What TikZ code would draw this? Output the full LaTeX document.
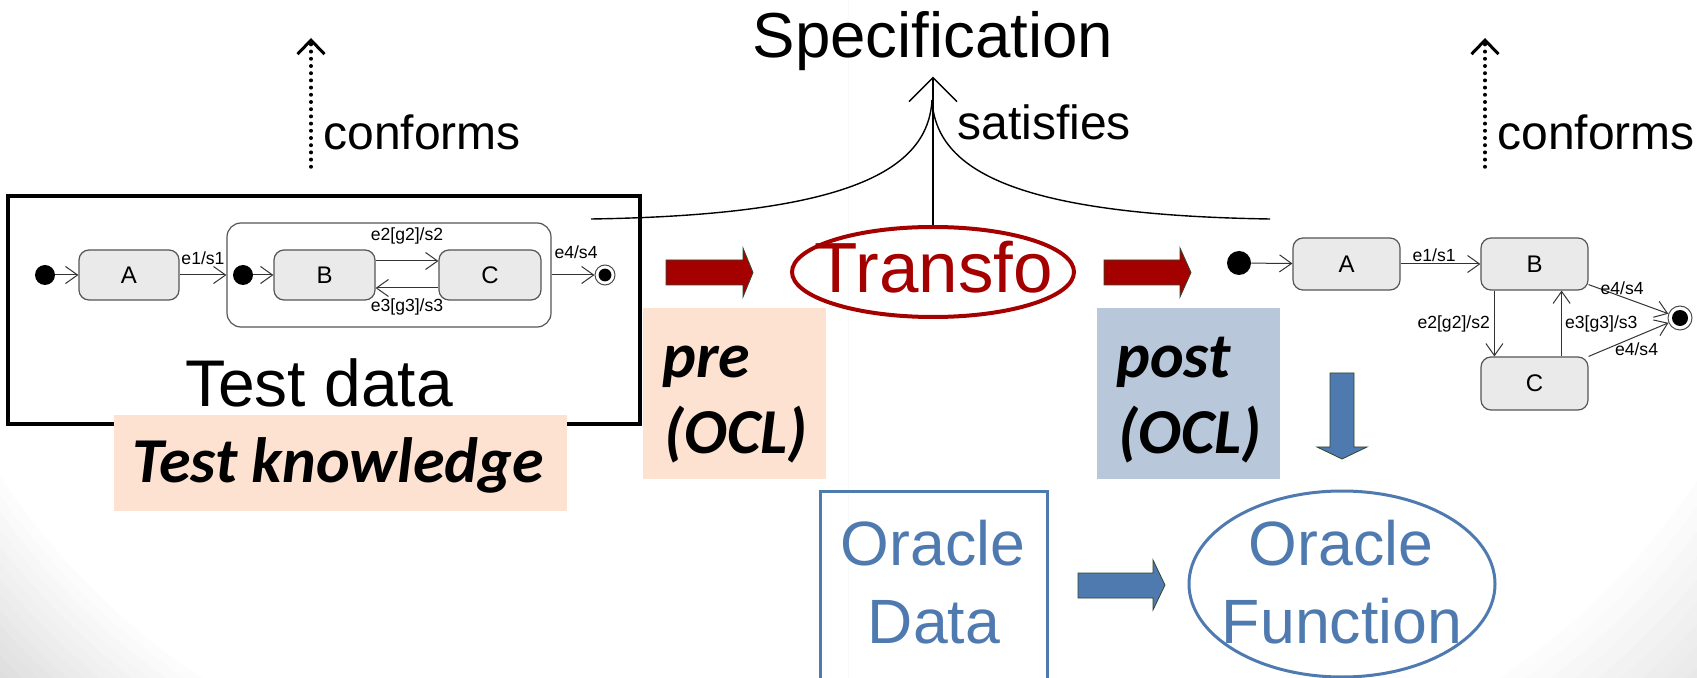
\documentclass[tikz,border=0pt]{standalone}
\usepackage{fontspec}
\setmainfont{Liberation Sans}
\newfontfamily\calfont{Carlito}
\usetikzlibrary{arrows.meta,shapes.geometric,calc}
\definecolor{peach}{RGB}{253,225,209}
\definecolor{postblue}{RGB}{184,199,218}
\definecolor{tred}{RGB}{165,0,0}
\definecolor{oblue}{RGB}{79,122,176}
\definecolor{stfill}{RGB}{234,234,234}
\definecolor{stdraw}{RGB}{85,85,85}
\definecolor{arrline}{RGB}{50,70,45}
\begin{document}
\begin{tikzpicture}[x=0.5pt,y=-0.5pt,
  txt/.style={font=\fontsize{#1}{#1}\selectfont, inner sep=0pt},
  ktxt/.style={font=\calfont\bfseries\itshape\fontsize{32}{32}\selectfont, inner sep=0pt},
  stbox/.style={rectangle, rounded corners=5pt, draw=stdraw, fill=stfill, line width=0.6pt, inner sep=0pt, font=\fontsize{12}{14}\selectfont},
  initst/.style={circle, fill=black, inner sep=0pt, minimum size=10pt},
  finst/.style 2 args={circle, draw=black!70, fill=white, line width=0.5pt, inner sep=0pt, minimum size=#1, path picture={\fill[black] (path picture bounding box.center) circle[radius=#2];}},
  trans/.style={draw=black!80, line width=0.5pt, -{Straight Barb[length=6pt,width=8.5pt]}},
  tlab/.style={font=\fontsize{8.8}{10}\selectfont, inner sep=1pt},
  confarrow/.style={line width=1.75pt, line cap=round, dash pattern=on 0.2pt off 3.4pt, -{Straight Barb[length=7pt,width=13.5pt,line width=1.5pt]}},
  fanline/.style={line width=0.7pt},
  blockred/.style={fill=tred, draw=arrline, line width=0.4pt},
  blockblue/.style={fill=oblue, draw=arrline, line width=0.4pt}]
\useasboundingbox (0,0) rectangle (1697,678);
% background: soft grey in the two lower corners
\begin{scope}
\clip (0,0) rectangle (848.5,678);
\fill[black!13] (0,0) rectangle (848.5,678);
\foreach \g in {12,11,...,0} {
  \pgfmathsetmacro\rr{715+(\g+0.5)*10.2}
  \fill[black!\g] (600,78) circle[radius=\rr];
}
\end{scope}
\begin{scope}
\clip (848.5,0) rectangle (1697,678);
\fill[black!9] (848.5,0) rectangle (1697,678);
\foreach \g in {8,7,...,0} {
  \pgfmathsetmacro\rr{715+(\g+0.5)*14.8}
  \fill[black!\g] (1097,78) circle[radius=\rr];
}
\end{scope}

% Specification and satisfies
\node[txt=31.8, anchor=base, inner sep=2.5pt] (spec) at (933,58) {Specification};
\node[txt=24, anchor=base west] (sat) at (957,140) {satisfies};

% conforms arrows
\coordinate (cfLb) at (311,167); \coordinate (cfLt) at (311,38);
\draw[confarrow] (cfLb) -- (cfLt);
\node[txt=24, anchor=base west] (cfLtxt) at (323,150) {conforms};
\coordinate (cfRb) at (1485,167); \coordinate (cfRt) at (1485,38);
\draw[confarrow] (cfRb) -- (cfRt);
\node[txt=24, anchor=base west] (cfRtxt) at (1497,150) {conforms};

% Test data box
\node[draw, line width=2pt, fill=white, minimum width=316pt, minimum height=114pt, inner sep=0pt] (tdbox) at (324,310) {};
\node[txt=33, anchor=base] (tdtxt) at (319,407) {Test data};

% left state machine
\node[initst] (iL1) at (45,275) {};
\node[stbox, minimum width=50pt, minimum height=25pt] (AL) at (129,275) {A};
\node[draw=stdraw, fill=white, rounded corners=7pt, line width=0.6pt, minimum width=162pt, minimum height=52pt, inner sep=0pt] (comp) at (389,275) {};
\node[initst] (iL2) at (243,275) {};
\node[stbox, minimum width=50.5pt, minimum height=25pt] (BL) at (324.5,275) {B};
\node[stbox, minimum width=51pt, minimum height=25pt] (CL) at (490,275) {C};
\node[finst={10pt}{3.2pt}] (fL) at (605,275) {};
\coordinate (bcU1) at (375,261); \coordinate (bcU2) at (439,261);
\coordinate (bcD1) at (439,288); \coordinate (bcD2) at (375,288);
\draw[trans] (iL1) -- (AL);
\draw[trans] (AL) -- (comp) node[tlab, midway, above=4pt] {e1/s1};
\draw[trans] (iL2) -- (BL);
\draw[trans] (BL.east |- bcU1) -- (CL.west |- bcU2) node[tlab, midway, above=7pt] {e2[g2]/s2};
\draw[trans] (CL.west |- bcD1) -- (BL.east |- bcD2) node[tlab, midway, below=4pt] {e3[g3]/s3};
\draw[trans] (comp) -- (fL) node[tlab, midway, above=7pt, xshift=1.5pt] {e4/s4};

% Test knowledge
\node[fill=peach, minimum width=226.5pt, minimum height=48pt, inner sep=0pt] (tkbox) at (340.5,463) {};
\node[ktxt, anchor=base] (tktxt) at (338,482) {Test knowledge};

% pre / post boxes
\node[fill=peach, minimum width=91.5pt, minimum height=85.5pt, inner sep=0pt] (prebox) at (734.5,393.5) {};
\node[ktxt, anchor=base west] (pre1) at (662,378) {pre};
\node[ktxt, anchor=base west] (pre2) at (664,453) {(OCL)};
\node[fill=postblue, minimum width=91.5pt, minimum height=85.5pt, inner sep=0pt] (postbox) at (1188.5,393.5) {};
\node[ktxt, anchor=base west] (post1) at (1116,378) {post};
\node[ktxt, anchor=base west] (post2) at (1118,453) {(OCL)};

% Transfo
\node[ellipse, draw=tred, line width=2pt, minimum width=141pt, minimum height=45pt, inner sep=0pt] (transfo) at (933,272) {};
\node[txt=35.5, text=tred, anchor=base] (transfotxt) at (934,293) {Transfo};
\draw[fanline, -{Straight Barb[length=12pt,width=24pt]}] (transfo.north) -- (spec.south);
\coordinate (fanL) at (591,219); \coordinate (fanR) at (1270,219); \coordinate (fanTop) at (932,100);
\draw[fanline] (fanL) .. controls (850,215) and (928,170) .. (fanTop);
\draw[fanline] (fanR) .. controls (1014,215) and (936,170) .. (fanTop);

% red block arrows
\filldraw[blockred] (666,260) -- (743,260) -- (743,248) -- (753,272.5) -- (743,297) -- (743,285) -- (666,285) -- cycle;
\filldraw[blockred] (1104,260) -- (1180,260) -- (1180,248) -- (1191,272.5) -- (1180,297) -- (1180,285) -- (1104,285) -- cycle;

% right state machine
\node[initst, minimum size=12pt] (iR) at (1239,263) {};
\node[stbox, minimum width=53.5pt, minimum height=26pt] (AR) at (1346.5,264) {A};
\node[stbox, minimum width=53.5pt, minimum height=26pt] (BR) at (1534.5,264) {B};
\node[stbox, minimum width=53.5pt, minimum height=26.5pt] (CR) at (1534.5,383.5) {C};
\node[finst={12pt}{4pt}] (fR) at (1680,318) {};
\draw[trans] (iR) -- (AR);
\draw[trans] (AR) -- (BR) node[tlab, pos=0.42, above=0pt] {e1/s1};
\draw[trans] ([xshift=7pt]BR.south west) -- ([xshift=7pt]CR.north west) node[tlab, midway, left=1pt] {e2[g2]/s2};
\draw[trans] ([xshift=-13.5pt]CR.north east) -- ([xshift=-13.5pt]BR.south east) node[tlab, midway, right=0.5pt] {e3[g3]/s3};
\draw[trans] ([yshift=3pt]BR.south east) -- (fR) node[tlab, pos=0.42, above=0pt] {e4/s4};
\draw[trans] (CR.north east) -- (fR) node[tlab, pos=0.6, below=2pt] {e4/s4};

% blue arrows
\filldraw[blockblue] (1330,373) -- (1354,373) -- (1354,447) -- (1367,447) -- (1342,459) -- (1317,447) -- (1330,447) -- cycle;
\filldraw[blockblue] (1078,573) -- (1153,573) -- (1153,560) -- (1165,585) -- (1153,610) -- (1153,598) -- (1078,598) -- cycle;

% Oracle data
\node[draw=oblue, line width=1.5pt, minimum width=113.5pt, minimum height=99.5pt, inner sep=0pt] (odbox) at (933.5,590.5) {};
\node[txt=31.3, text=oblue, anchor=base] (od1) at (933,565) {Oracle};
\node[txt=31.3, text=oblue, anchor=base] (od2) at (934,643) {Data};

% Oracle function
\node[ellipse, draw=oblue, line width=1.5pt, minimum width=153pt, minimum height=93pt, inner sep=0pt] (ofun) at (1342,584) {};
\node[txt=31.3, text=oblue, anchor=base] (of1) at (1341,565) {Oracle};
\node[txt=31.3, text=oblue, anchor=base] (of2) at (1342,643) {Function};
\end{tikzpicture}
\end{document}
